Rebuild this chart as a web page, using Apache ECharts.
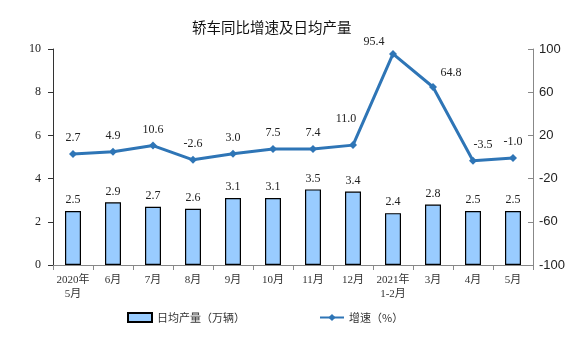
<!DOCTYPE html>
<html><head><meta charset="utf-8">
<script src="https://cdn.jsdelivr.net/npm/echarts@6/dist/echarts.min.js"></script>
<style>html,body{margin:0;padding:0;background:#fff}#c{width:576px;height:358px}</style>
</head><body><div id="c"></div>
<script>
const categories = ['2020年\n5月','6月','7月','8月','9月','10月','11月','12月','2021年\n1-2月','3月','4月','5月'];
const dailyOutput = [2.5,2.9,2.7,2.6,3.1,3.1,3.5,3.4,2.4,2.8,2.5,2.5];
const growth = [2.7,4.9,10.6,-2.6,3.0,7.5,7.4,11.0,95.4,64.8,-3.5,-1.0];
// label nudges (styling only)
const growthLabelOffsets = [null,null,null,null,null,null,null,[-7,-10],[-19,4],[18,2],[10,0],null];
const serif = '"Liberation Serif","Noto Sans CJK SC",serif';
const chart = echarts.init(document.getElementById('c'));
chart.setOption({
  animation:false,
  title:{text:'轿车同比增速及日均产量',left:187,top:15,textStyle:{fontFamily:'"Noto Sans CJK SC",sans-serif',fontSize:14.5,fontWeight:'normal',color:'#111'}},
  grid:{left:53,right:43,top:49,bottom:93},
  legend:{top:307,left:122,itemGap:74,itemWidth:24,itemHeight:9,
    textStyle:{fontFamily:'"Noto Sans CJK SC",sans-serif',fontSize:11,color:'#333'},
    data:[{name:'日均产量（万辆）',icon:'rect'},{name:'增速（%）'}]},
  xAxis:{type:'category',data:categories,
    axisLine:{lineStyle:{color:'#888'}},
    axisTick:{show:true,alignWithLabel:false,length:5,lineStyle:{color:'#888'}},
    axisLabel:{fontFamily:serif,fontSize:11,color:'#333',lineHeight:14,margin:8,interval:0}},
  yAxis:[{type:'value',min:0,max:10,interval:2,splitLine:{show:false},
    axisLine:{show:true,lineStyle:{color:'#333'}},axisTick:{show:true,length:5,lineStyle:{color:'#333'}},
    axisLabel:{fontFamily:serif,fontSize:12,color:'#222',margin:12}},
   {type:'value',min:-100,max:100,interval:40,splitLine:{show:false},position:'right',
    axisLine:{show:true,lineStyle:{color:'#888'}},axisTick:{show:true,inside:true,length:5,lineStyle:{color:'#888'}},
    axisLabel:{fontFamily:'"Liberation Sans",sans-serif',fontSize:13,color:'#222',margin:6}}],
  series:[{name:'日均产量（万辆）',type:'bar',data:dailyOutput,barWidth:16,
    itemStyle:{color:'#99CCFF',borderColor:'#000',borderWidth:1.2},
    label:{show:true,position:'top',distance:5,fontFamily:serif,fontSize:12,color:'#222',formatter:p=>p.value.toFixed(1)}},
   {name:'增速（%）',type:'line',yAxisIndex:1,symbol:'diamond',symbolSize:8,
    data:growth.map((v,i)=>growthLabelOffsets[i]?{value:v,label:{offset:growthLabelOffsets[i]}}:v),
    lineStyle:{color:'#2E75B6',width:3},itemStyle:{color:'#2E75B6'},
    label:{show:true,position:'top',distance:6,fontFamily:serif,fontSize:12,color:'#222',formatter:p=>Number(p.value).toFixed(1)}}]
});
</script></body></html>
